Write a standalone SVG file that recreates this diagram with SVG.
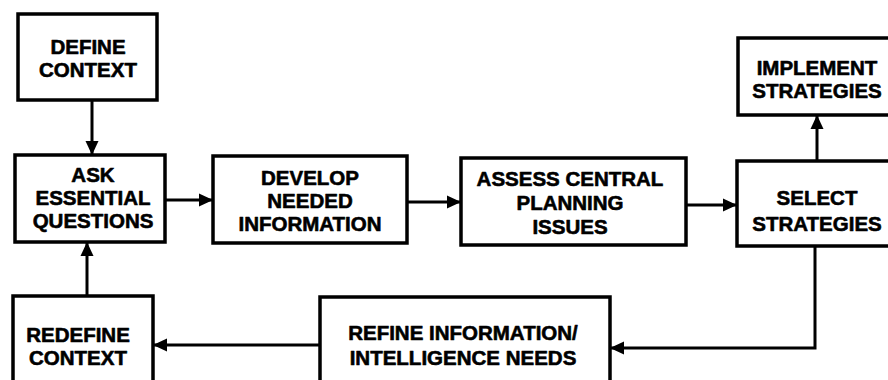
<svg xmlns="http://www.w3.org/2000/svg" width="888" height="380" viewBox="0 0 888 380">
<defs>
<marker id="ah" markerUnits="userSpaceOnUse" markerWidth="16" markerHeight="14" refX="14" refY="7" orient="auto">
<path d="M0,0.5 L14,7 L0,13.5 Z" fill="#000"/>
</marker>
<style>
.box{fill:#fff;stroke:#000;stroke-width:3.5}
.t{font-family:"Liberation Sans",Arial,sans-serif;font-weight:bold;font-size:20.5px;text-anchor:middle;fill:#000;stroke:#000;stroke-width:0.6;stroke-linejoin:round}
.c{fill:none;stroke:#000;stroke-width:3}
</style>
</defs>
<rect width="888" height="380" fill="#fff"/>
<g id="connectors">
<path class="c" d="M92,100 V155" marker-end="url(#ah)"/>
<path class="c" d="M165,200 H213" marker-end="url(#ah)"/>
<path class="c" d="M407,202 H461" marker-end="url(#ah)"/>
<path class="c" d="M686,205 H737" marker-end="url(#ah)"/>
<path class="c" d="M817,161 V115" marker-end="url(#ah)"/>
<path class="c" d="M815,246 V348 H610" marker-end="url(#ah)"/>
<path class="c" d="M320,345 H153" marker-end="url(#ah)"/>
<path class="c" d="M87,297 V242" marker-end="url(#ah)"/>
</g>
<g id="define-context">
<rect class="box" x="18" y="14" width="139" height="86"/>
<text class="t" x="88" y="54">DEFINE</text>
<text class="t" x="88" y="77">CONTEXT</text>
</g>
<g id="ask-essential-questions">
<rect class="box" x="15" y="155" width="150" height="87"/>
<text class="t" x="93" y="182">ASK</text>
<text class="t" x="93" y="205">ESSENTIAL</text>
<text class="t" x="93" y="228">QUESTIONS</text>
</g>
<g id="develop-needed-information">
<rect class="box" x="213" y="156" width="194" height="87"/>
<text class="t" x="310" y="185">DEVELOP</text>
<text class="t" x="310" y="208">NEEDED</text>
<text class="t" x="310" y="231">INFORMATION</text>
</g>
<g id="assess-central-planning-issues">
<rect class="box" x="461" y="158" width="225" height="87"/>
<text class="t" x="570" y="186">ASSESS CENTRAL</text>
<text class="t" x="570" y="210">PLANNING</text>
<text class="t" x="570" y="234">ISSUES</text>
</g>
<g id="select-strategies">
<rect class="box" x="737" y="161" width="160" height="85"/>
<text class="t" x="817" y="205">SELECT</text>
<text class="t" x="817" y="231">STRATEGIES</text>
</g>
<g id="implement-strategies">
<rect class="box" x="738" y="38" width="158" height="77"/>
<text class="t" x="817" y="75">IMPLEMENT</text>
<text class="t" x="817" y="98">STRATEGIES</text>
</g>
<g id="refine-information-intelligence-needs">
<rect class="box" x="320" y="297" width="290" height="100"/>
<text class="t" x="463" y="340">REFINE INFORMATION/</text>
<text class="t" x="463" y="365">INTELLIGENCE NEEDS</text>
</g>
<g id="redefine-context">
<rect class="box" x="13" y="296" width="140" height="100"/>
<text class="t" x="78" y="342">REDEFINE</text>
<text class="t" x="78" y="365">CONTEXT</text>
</g>
</svg>
